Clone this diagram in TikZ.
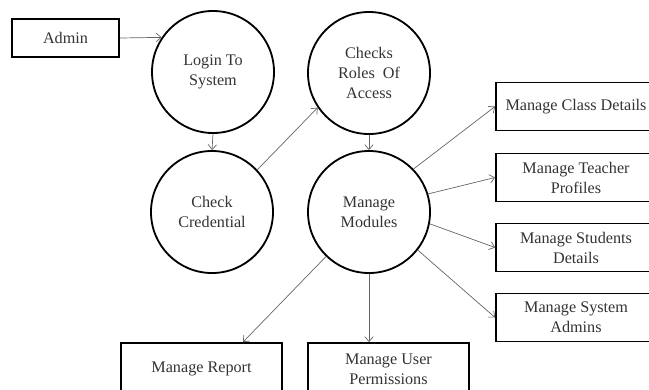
\documentclass[tikz,border=0pt]{standalone}
\usepackage{fontspec}
\setmainfont{Liberation Serif}
\usetikzlibrary{calc,arrows.meta}
\tikzset{
	proc/.style={draw, circle, line width=1.3pt, minimum size=3.05cm, inner sep=0pt, align=center, text=black!80},
	ent/.style={draw, rectangle, line width=1.3pt, minimum width=4cm, minimum height=1.2cm, inner sep=0pt, align=center, text=black!80},
	flow/.style={-{Straight Barb[length=3.5pt, width=6pt]}, black!60, line width=0.5pt}
}

\begin{document}
\begin{tikzpicture}[x=0.025cm, y=-0.025cm, font=\fontsize{11.5}{14.2}\selectfont]
			%%%%% START %%%%%
			\useasboundingbox (0, 0) rectangle (649, 389);
			
			\node[ent, minimum width=2.675cm, minimum height=0.95cm] (admin) at (65.5, 38) {Admin};
			
			\node[proc] (login) at (213, 72) {Login To\\System};
			\node[proc] (chk) at (212, 212) {Check\\Credential};
			\node[proc] (roles) at (369, 73) {Checks\\Roles~ Of\\Access};
			\node[proc] (mod) at (369, 212) {Manage\\Modules};
			
			\node[ent] (cls) at (576, 106.5) {Manage Class Details};
			\node[ent] (tch) at (576, 177.5) {Manage Teacher\\Profiles};
			\node[ent] (stu) at (576, 247.5) {Manage Students\\Details};
			\node[ent] (stm) at (576, 317.5) {Manage System\\Admins};
			
			\node[ent, minimum width=4.025cm, minimum height=1.3cm] (rep) at (201.5, 369) {Manage Report};
			\node[ent, minimum width=4.025cm, minimum height=1.3cm] (perm) at (388.5, 369) {Manage User\\Permissions};
			
			\draw[flow] (admin.east) -- (login.146);
			\draw[flow] (login.south) -- (chk.north);
			\draw[flow] (chk.43) -- (roles.214);
			\draw[flow] (roles.south) -- (mod.north);
			
			\draw[flow] (mod.44) -- (cls.west);
			\draw[flow] (mod.17) -- (tch.west);
			\draw[flow] (mod.-11) -- (stu.west);
			\draw[flow] (mod.-38) -- (stm.west);
			
			\draw[flow] (mod.226) -- ($(rep.north)+(41.5, 0)$);
			\draw[flow] (mod.south) -- (mod.south |- perm.north);
			
			%%%%% END %%%%%
\end{tikzpicture}
\end{document}
